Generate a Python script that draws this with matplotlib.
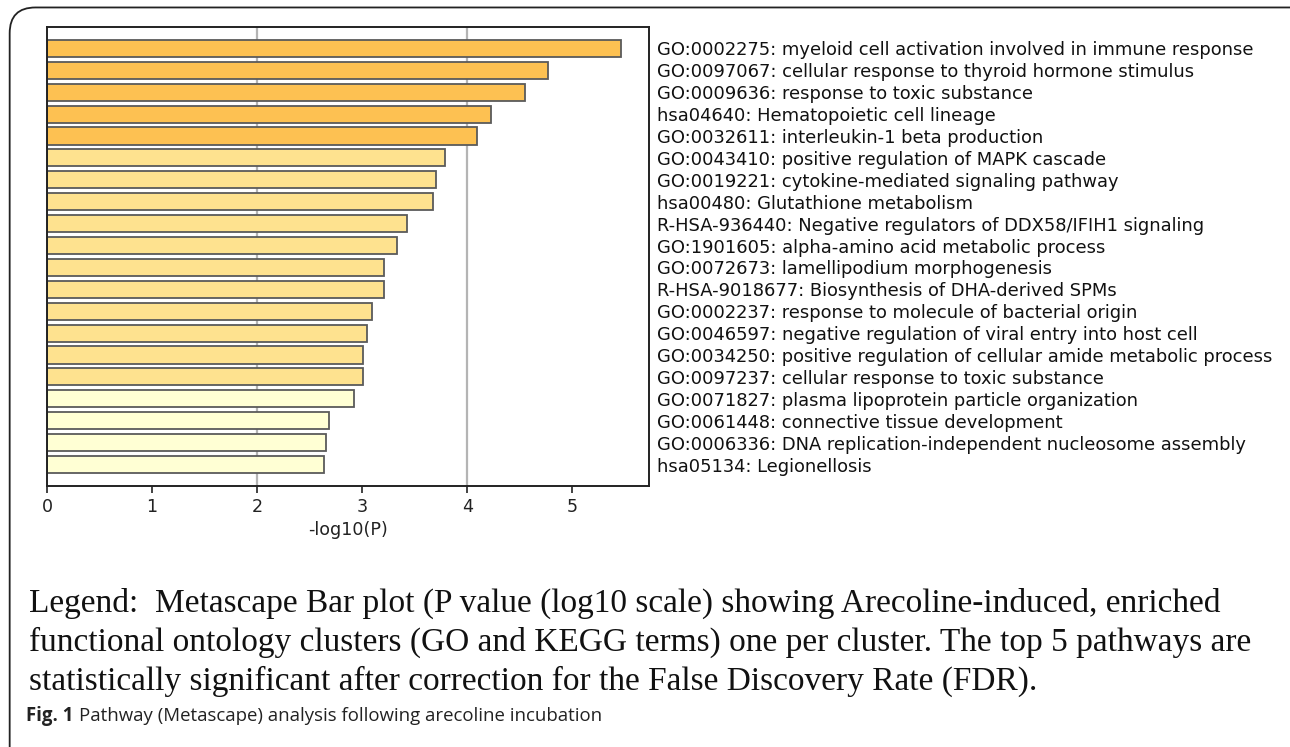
import numpy as np
import matplotlib.pyplot as plt
from matplotlib.patches import FancyBboxPatch

plt.rcParams['font.family'] = ['DejaVu Sans']

terms = [
    "GO:0002275: myeloid cell activation involved in immune response",
    "GO:0097067: cellular response to thyroid hormone stimulus",
    "GO:0009636: response to toxic substance",
    "hsa04640: Hematopoietic cell lineage",
    "GO:0032611: interleukin-1 beta production",
    "GO:0043410: positive regulation of MAPK cascade",
    "GO:0019221: cytokine-mediated signaling pathway",
    "hsa00480: Glutathione metabolism",
    "R-HSA-936440: Negative regulators of DDX58/IFIH1 signaling",
    "GO:1901605: alpha-amino acid metabolic process",
    "GO:0072673: lamellipodium morphogenesis",
    "R-HSA-9018677: Biosynthesis of DHA-derived SPMs",
    "GO:0002237: response to molecule of bacterial origin",
    "GO:0046597: negative regulation of viral entry into host cell",
    "GO:0034250: positive regulation of cellular amide metabolic process",
    "GO:0097237: cellular response to toxic substance",
    "GO:0071827: plasma lipoprotein particle organization",
    "GO:0061448: connective tissue development",
    "GO:0006336: DNA replication-independent nucleosome assembly",
    "hsa05134: Legionellosis",
]
logp = [5.46, 4.77, 4.55, 4.23, 4.09, 3.785, 3.70, 3.675, 3.43, 3.33,
        3.205, 3.205, 3.09, 3.05, 3.005, 3.005, 2.92, 2.685, 2.66, 2.64]
# colour group of each bar: 0 = strongest, 2 = weakest
group = [0, 0, 0, 0, 0, 1, 1, 1, 1, 1, 1, 1, 1, 1, 1, 1, 2, 2, 2, 2]
group_colors = ["#fdc152", "#fee28f", "#ffffd4"]
xticks = [0, 1, 2, 3, 4, 5]
grid_x = [2, 4]

legend_lines = [
    "Legend:  Metascape Bar plot (P value (log10 scale) showing Arecoline-induced, enriched",
    "functional ontology clusters (GO and KEGG terms) one per cluster. The top 5 pathways are",
    "statistically significant after correction for the False Discovery Rate (FDR).",
]
fig_label = "Fig. 1"
fig_caption = "Pathway (Metascape) analysis following arecoline incubation"

fig = plt.figure(figsize=(12.9, 7.47), dpi=100)
ax = fig.add_axes([0.0364, 0.3494, 0.4667, 0.6145])

y = np.arange(len(terms))
for gx in grid_x:
    ax.axvline(gx, color="#b4b4b4", lw=1.6, zorder=0)
ax.barh(y, logp, height=0.78, color=[group_colors[g] for g in group],
        edgecolor="#5a5a5a", linewidth=1.3, zorder=2)

ax.set_xlim(0, 5.73)
ax.set_ylim(len(terms) - 0.02, -0.98)
ax.set_xticks(xticks)
ax.tick_params(axis="x", labelsize=12.6, length=5, width=1.2, colors="#222222", pad=4)
ax.set_xlabel("-log10(P)", fontsize=12.6, color="#222222", labelpad=3)
ax.yaxis.tick_right()
ax.set_yticks(y)
ax.set_yticklabels(terms, fontsize=12.9, color="#111111")
ax.tick_params(axis="y", length=0, pad=6)
for s in ax.spines.values():
    s.set_linewidth(1.4)
    s.set_color("#222222")

for i, line in enumerate(legend_lines):
    fig.text(0.0225, 0.181 - i * 0.0522, line, family="Liberation Serif",
             fontsize=24, va="baseline", ha="left", color="#111111")

t = fig.text(0.020, 0.0348, fig_label, family="Open Sans", fontweight="bold",
             fontsize=13.4, va="baseline", ha="left", color="#222222")
r = fig.canvas.get_renderer()
x1 = t.get_window_extent(r).x1 / fig.bbox.width
fig.text(x1 + 0.0045, 0.0348, fig_caption, family="Open Sans", fontsize=13.4,
         va="baseline", ha="left", color="#222222")

frame = FancyBboxPatch((0.0075, -0.05), 1.05, 1.04, boxstyle="round,pad=0,rounding_size=0.02",
                       transform=fig.transFigure, fill=False, edgecolor="#222222",
                       linewidth=1.3, mutation_aspect=1.727)
fig.add_artist(frame)

fig.savefig("out.png", dpi=100)
